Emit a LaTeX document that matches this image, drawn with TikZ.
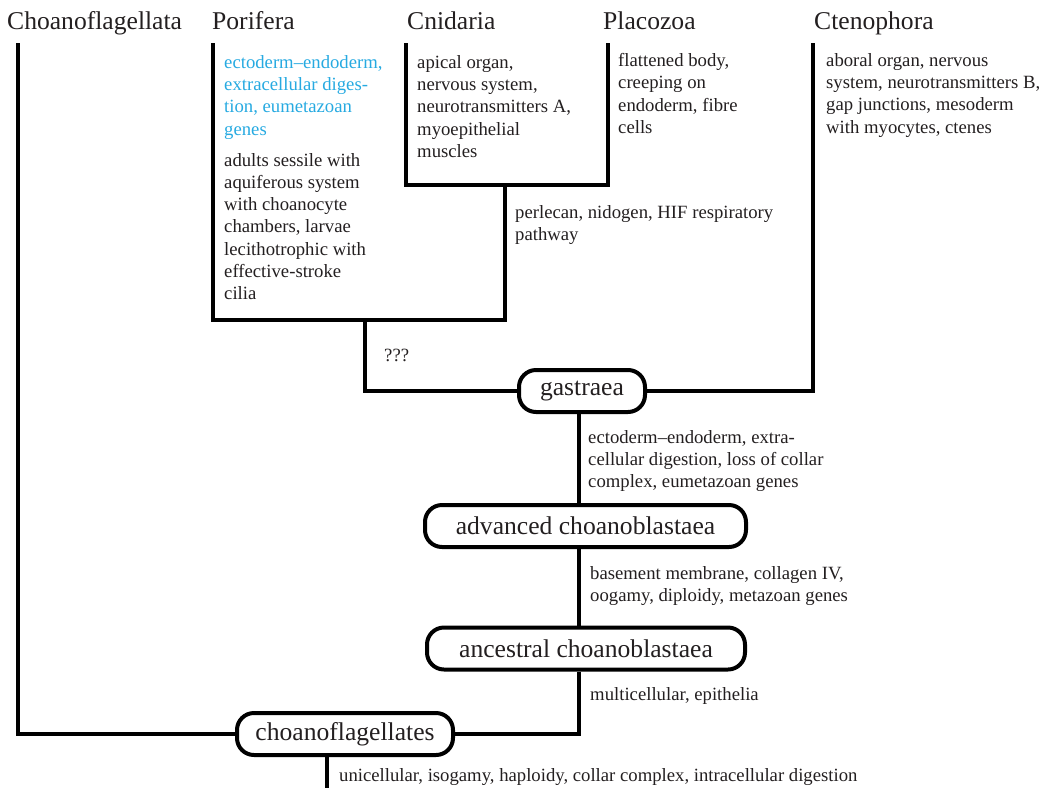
\documentclass[tikz,border=0pt]{standalone}
\usepackage{fontspec}
\setmainfont{Liberation Serif}
\usetikzlibrary{positioning}
\definecolor{inkgrey}{HTML}{231F20}
\definecolor{gainblue}{HTML}{27AAE1}

\begin{document}
\begin{tikzpicture}[
    x=1pt, y=-1pt,
    taxon/.style={anchor=base west, inner sep=0pt, text=inkgrey,
                  font=\fontsize{25.6}{30}\selectfont},
    trait/.style={anchor=north west, inner sep=0pt, align=left, text=inkgrey,
                  font=\fontsize{18.7}{22.3}\selectfont},
    ancestor/.style={draw, line width=4pt, rounded corners=17pt, fill=white,
                     minimum height=42pt, inner sep=0pt, text=inkgrey,
                     font=\fontsize{25.6}{30}\selectfont},
    branch/.style={line width=4pt, line join=miter}
]
\useasboundingbox (0,0) rectangle (1047,788);

% taxa along the top
\node[taxon] (choT) at (7,29) {Choanoflagellata};
\node[taxon] (porT) at (212,29) {Porifera};
\node[taxon] (cniT) at (407,29) {Cnidaria};
\node[taxon] (plaT) at (603,29) {Placozoa};
\node[taxon] (cteT) at (814,29) {Ctenophora};

% reconstructed ancestors
\node[ancestor, minimum width=126pt] (gas) at (582,391) {gastraea};
\node[ancestor, minimum width=321pt] (adv) at (585.5,526) {advanced choanoblastaea};
\node[ancestor, minimum width=318pt] (anc) at (586,648.5) {ancestral choanoblastaea};
\node[ancestor, minimum width=216pt] (cfl) at (345,734) {choanoflagellates};

% character lists
\node[trait, text=gainblue] (porGain) at (224,55.2)
  {ectoderm--endoderm,\\extracellular diges-\\tion, eumetazoan\\genes};
\node[trait] (porBody) at (224,152.9)
  {adults sessile with\\aquiferous system\\with choanocyte\\chambers, larvae\\lecithotrophic with\\effective-stroke\\cilia};
\node[trait] (cniBody) at (417,55.2)
  {apical organ,\\nervous system,\\neurotransmitters A,\\myoepithelial\\muscles};
\node[trait] (plaBody) at (618,53.2)
  {flattened body,\\creeping on\\endoderm, fibre\\cells};
\node[trait] (cteBody) at (826,53.2)
  {aboral organ, nervous\\system, neurotransmitters B,\\gap junctions, mesoderm\\with myocytes, ctenes};
\node[trait] (bilGain) at (515,205)
  {perlecan, nidogen, HIF respiratory\\pathway};
\node[trait] (unknown) at (384,349) {???};
\node[trait] (gasGain) at (588,430)
  {ectoderm--endoderm, extra-\\cellular digestion, loss of collar\\complex, eumetazoan genes};
\node[trait] (advGain) at (590,566)
  {basement membrane, collagen IV,\\oogamy, diploidy, metazoan genes};
\node[trait] (ancGain) at (590,687.5) {multicellular, epithelia};
\node[trait] (cflGain) at (339,768)
  {unicellular, isogamy, haploidy, collar complex, intracellular digestion};

% branch points
\coordinate (choTop) at (18,43);
\coordinate (porTop) at (213,43);
\coordinate (cniTop) at (406,43);
\coordinate (plaTop) at (608,43);
\coordinate (cteTop) at (813,43);
\coordinate (cniPla) at (505,185);
\coordinate (porEum) at (365,320);
\coordinate (spine) at (579,0);
\coordinate (root) at (327,788);

% tree
\draw[branch] (cniTop) |- (cniPla) -| (plaTop);
\draw[branch] (porTop) |- (porEum) -| (cniPla);
\draw[branch] (porEum) |- (gas.west);
\draw[branch] (cteTop) |- (gas.east);
\draw[branch] (gas.south -| spine) -- (adv.north -| spine);
\draw[branch] (adv.south -| spine) -- (anc.north -| spine);
\draw[branch] (anc.south -| spine) |- (cfl.east);
\draw[branch] (choTop) |- (cfl.west);
\draw[branch] (cfl.south -| root) -- (root);
\end{tikzpicture}
\end{document}
